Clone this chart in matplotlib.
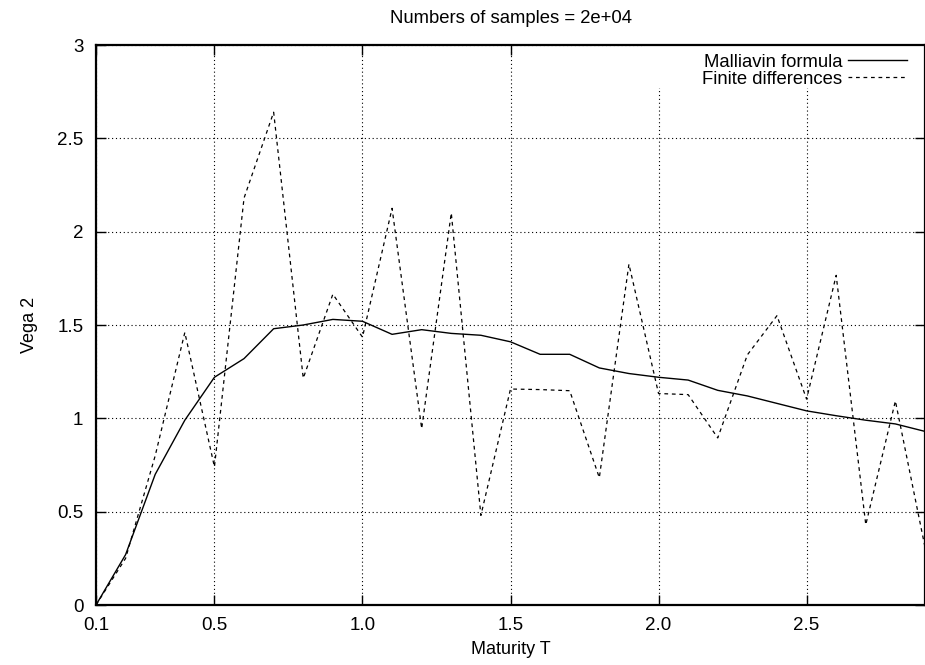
import matplotlib
matplotlib.use("Agg")
import matplotlib.pyplot as plt
from matplotlib.patches import Rectangle
from matplotlib.ticker import FormatStrFormatter

plt.rcParams['font.family'] = ['Liberation Sans', 'DejaVu Sans']

# Maturities and the two estimates of Vega 2
maturity = [0.1, 0.2, 0.3, 0.4, 0.5, 0.6, 0.7, 0.8, 0.9, 1.0,
            1.1, 1.2, 1.3, 1.4, 1.5, 1.6, 1.7, 1.8, 1.9, 2.0,
            2.1, 2.2, 2.3, 2.4, 2.5, 2.6, 2.7, 2.8, 2.9]
malliavin = [0.0, 0.27, 0.70, 0.99, 1.22, 1.32, 1.48, 1.50, 1.53, 1.52,
             1.45, 1.475, 1.455, 1.445, 1.41, 1.343, 1.343, 1.27, 1.24, 1.22,
             1.205, 1.15, 1.12, 1.08, 1.04, 1.014, 0.99, 0.97, 0.93]
finite_diff = [0.0, 0.25, 0.80, 1.46, 0.74, 2.18, 2.64, 1.215, 1.665, 1.435,
               2.125, 0.945, 2.10, 0.48, 1.157, 1.154, 1.148, 0.682, 1.826, 1.133,
               1.127, 0.895, 1.34, 1.55, 1.103, 1.766, 0.43, 1.093, 0.31]

x_ticks = [0.1, 0.5, 1.0, 1.5, 2.0, 2.5]
y_ticks = [0, 0.5, 1, 1.5, 2, 2.5, 3]

fig = plt.figure(figsize=(9.25, 6.65), dpi=100)
ax = fig.add_axes([96/925, 1 - 605/665, 829/925, 560/665])

ax.plot(maturity, malliavin, color='black', lw=1.0, label='Malliavin formula', zorder=3)
ax.plot(maturity, finite_diff, color='black', lw=0.9, linestyle=(0, (3, 3)),
        label='Finite differences', zorder=3)

ax.set_xlim(0.1, 2.9)
ax.set_ylim(0, 3)
ax.set_xticks(x_ticks)
ax.set_yticks(y_ticks)
ax.xaxis.set_major_formatter(FormatStrFormatter('%.1f'))
ax.yaxis.set_major_formatter(FormatStrFormatter('%g'))
ax.tick_params(direction='in', length=7, width=1, top=True, right=True,
               labelsize=13.5, pad=9)
ax.grid(True, color='black', lw=0.8, linestyle=(0, (1, 2.5)), zorder=1)
ax.set_axisbelow(True)
for s in ax.spines.values():
    s.set_linewidth(1.6)

# gnuplot key covers the grid behind it
ax.add_patch(Rectangle((0.662, 0.923), 0.338, 0.077, transform=ax.transAxes,
                       facecolor='white', edgecolor='none', zorder=2))

ax.set_xlabel('Maturity T', fontsize=13, labelpad=5)
ax.set_ylabel('Vega 2', fontsize=13, labelpad=14)
ax.set_title('Numbers of samples = 2e+04', fontsize=13.3, pad=16)

leg = ax.legend(loc='upper right', bbox_to_anchor=(0.978, 0.984), frameon=False,
                markerfirst=False, fontsize=13.3, handlelength=3.2,
                handletextpad=0.3, borderpad=0, borderaxespad=0, labelspacing=0.0)

fig.savefig('out.png', dpi=100)
